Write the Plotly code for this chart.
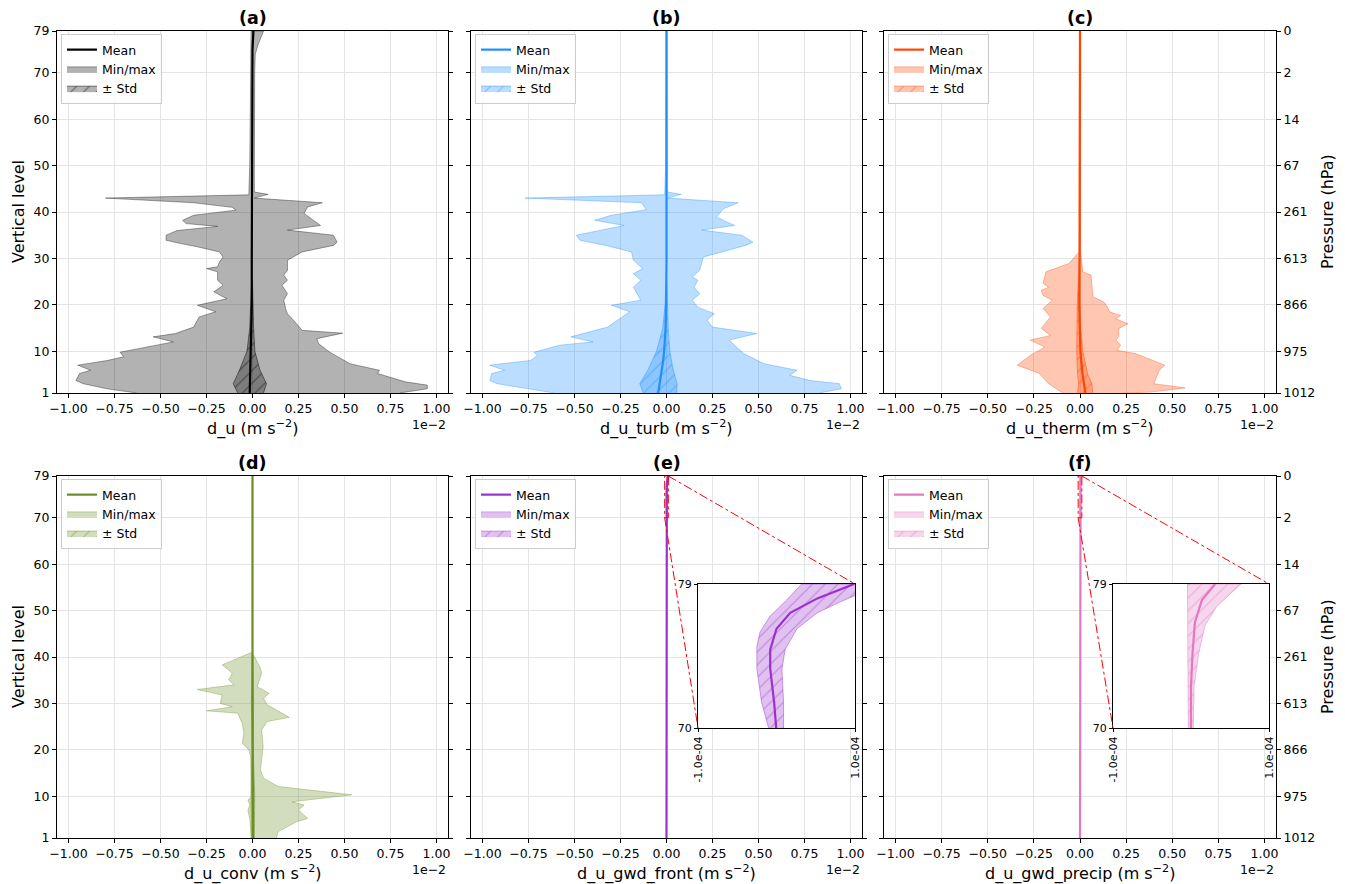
import plotly.graph_objects as go

# ---------------- data (x in units of 1e-2 m s^-2; panels e,f in 1e-4) ----------------
levels_ticks = [1, 10, 20, 30, 40, 50, 60, 70, 79]
pressure_labels = ["1012", "975", "866", "613", "261", "67", "14", "2", "0"]
x_ticks = [-1.0, -0.75, -0.5, -0.25, 0.0, 0.25, 0.5, 0.75, 1.0]
x_ticktext = ["−1.00", "−0.75", "−0.50", "−0.25", "0.00", "0.25", "0.50", "0.75", "1.00"]
panel_titles = ["(a)", "(b)", "(c)", "(d)", "(e)", "(f)"]
x_labels = ["d_u", "d_u_turb", "d_u_therm", "d_u_conv", "d_u_gwd_front", "d_u_gwd_precip"]

# panel (a)
a_min_lev = [1, 1.9, 3.0, 3.7, 5.2, 5.9, 7.0, 8.0, 8.8, 9.8, 10.9, 12.0, 13.1, 13.8, 15.2, 17.4, 18.5,
             19.9, 21.3, 22.8, 24.2, 25.3, 27.1, 27.8, 28.2, 29.2, 30.3, 31.4, 32.5, 33.2, 33.9, 35, 36,
             36.9, 37.5, 38.2, 39.3, 40.4, 41, 42, 43, 43.7, 50, 60, 70, 79]
a_min = [-0.63, -0.79, -0.92, -0.96, -0.94, -0.88, -0.95, -0.79, -0.70, -0.72, -0.57, -0.43, -0.54,
         -0.42, -0.32, -0.29, -0.20, -0.30, -0.14, -0.21, -0.16, -0.19, -0.19, -0.25, -0.19, -0.18,
         -0.16, -0.18, -0.30, -0.39, -0.47, -0.47, -0.41, -0.19, -0.36, -0.38, -0.32, -0.09, -0.11,
         -0.32, -0.80, -0.02, -0.015, -0.012, -0.01, -0.008]
a_max_lev = [1, 1.9, 2.7, 3.4, 5.2, 5.9, 7.3, 9.8, 11.6, 12.7, 13.9, 14.5, 15.9, 18.1, 19.2, 21.0, 22.4,
             24.2, 25.3, 26.4, 27.4, 29.6, 31.4, 32.8, 33.5, 35, 36.1, 37.1, 39.7, 41.1, 42, 43, 43.8,
             44.3, 50, 60, 70, 74, 76, 79]
a_max = [0.80, 0.95, 0.95, 0.83, 0.68, 0.69, 0.53, 0.42, 0.36, 0.35, 0.49, 0.27, 0.24, 0.19, 0.18,
         0.17, 0.19, 0.16, 0.19, 0.17, 0.19, 0.19, 0.27, 0.44, 0.46, 0.44, 0.19, 0.37, 0.28, 0.30,
         0.38, 0.01, 0.085, 0.01, 0.01, 0.01, 0.012, 0.015, 0.03, 0.06]
a_mean_lev = [1, 5, 10, 15, 20, 30, 40, 50, 60, 70, 75, 79]
a_mean = [-0.015, -0.012, -0.008, -0.005, -0.004, -0.004, -0.003, -0.003, -0.003, -0.002, 0.0, 0.005]
a_std_lev = [1, 3, 6, 10, 15, 20, 25]
a_std_lo = [-0.08, -0.105, -0.07, -0.03, -0.015, -0.008, -0.005]
a_std_hi = [0.06, 0.076, 0.04, 0.013, 0.006, 0.003, 0.0]

# panel (b)
b_min_lev = [1, 3.0, 3.7, 5.2, 5.9, 7.0, 8.0, 9.1, 9.8, 11.3, 12.0, 13.1, 15.2, 18.5, 19.9, 21.0,
             23.8, 25.3, 26.7, 27.8, 29.6, 31.4, 32.8, 33.9, 35, 37.1, 38.2, 39.3, 40.5, 42, 43, 43.7,
             50, 60, 70, 79]
b_min = [-0.61, -0.92, -0.96, -0.95, -0.88, -0.96, -0.74, -0.70, -0.72, -0.58, -0.40, -0.52, -0.32,
         -0.20, -0.30, -0.14, -0.18, -0.14, -0.18, -0.13, -0.18, -0.19, -0.33, -0.47, -0.49, -0.23,
         -0.39, -0.30, -0.11, -0.135, -0.77, -0.01, -0.005, -0.004, -0.003, -0.003]
b_max_lev = [1, 1.9, 3.0, 3.7, 4.8, 5.9, 7.3, 9.5, 10.9, 12.4, 13.8, 15.2, 16.7, 18.1, 19.5, 21.0,
             22.4, 23.8, 25.3, 26.0, 27.4, 30.3, 32.8, 33.5, 35, 36.1, 37.1, 38.9, 40.7, 42, 43, 43.8,
             44.3, 50, 60, 70, 79]
b_max = [0.83, 0.95, 0.94, 0.78, 0.67, 0.71, 0.53, 0.42, 0.38, 0.34, 0.49, 0.25, 0.22, 0.26, 0.17,
         0.14, 0.18, 0.15, 0.17, 0.14, 0.18, 0.20, 0.43, 0.47, 0.41, 0.19, 0.37, 0.27, 0.31, 0.39,
         0.005, 0.08, 0.005, 0.005, 0.004, 0.004, 0.004]
b_mean_lev = [1, 3, 5, 8, 10, 15, 20, 30, 79]
b_mean = [-0.045, -0.037, -0.027, -0.018, -0.013, -0.005, -0.002, 0.0, 0.0]
b_std_lev = [1, 3, 6, 10, 15, 20, 25]
b_std_lo = [-0.126, -0.145, -0.10, -0.054, -0.02, -0.008, -0.003]
b_std_hi = [0.054, 0.058, 0.036, 0.018, 0.009, 0.004, 0.002]

# panel (c)
c_min_lev = [1, 3.0, 5.2, 7.0, 9.1, 10.9, 12.4, 13.4, 14.9, 17.4, 19.2, 21.0, 22.0, 23.1, 23.8, 24.6,
             27.1, 28.9, 31.4, 40, 79]
c_min = [-0.094, -0.17, -0.22, -0.34, -0.27, -0.19, -0.27, -0.16, -0.21, -0.16, -0.20, -0.15, -0.20,
         -0.21, -0.17, -0.20, -0.185, -0.06, -0.005, -0.003, -0.003]
c_max_lev = [1, 1.2, 2.1, 3.0, 5.9, 7.0, 9.5, 10.2, 11.3, 12.4, 13.1, 14.9, 15.9, 17.0, 17.7, 18.5,
             19.5, 20.6, 21.7, 26.4, 27.1, 31.4, 40, 79]
c_max = [0.23, 0.385, 0.57, 0.40, 0.43, 0.46, 0.30, 0.20, 0.22, 0.195, 0.21, 0.21, 0.26, 0.195, 0.22,
         0.16, 0.15, 0.13, 0.07, 0.06, 0.015, 0.003, 0.003, 0.003]
c_mean_lev = [1, 5, 10, 15, 20, 30, 79]
c_mean = [0.029, 0.014, 0.002, -0.003, -0.004, -0.002, 0.0]
c_std_lev = [1, 3, 5, 10, 15, 20, 30]
c_std_lo = [-0.013, -0.008, -0.013, -0.018, -0.018, -0.015, -0.004]
c_std_hi = [0.069, 0.065, 0.042, 0.015, 0.004, 0.002, 0.0]

# panel (d)
d_min_lev = [1, 4.9, 7.0, 8.1, 9.2, 9.9, 18.5, 20.0, 21.4, 23.6, 25.7, 27.9, 28.4, 29.3, 30.0, 31.8,
             33.0, 34.0, 35.1, 36.5, 37.2, 38.3, 40.9]
d_min = [-0.007, -0.014, -0.025, -0.014, -0.025, -0.007, -0.01, -0.02, -0.056, -0.047, -0.056, -0.08,
         -0.25, -0.11, -0.175, -0.165, -0.30, -0.10, -0.13, -0.11, -0.13, -0.165, -0.01]
d_max_lev = [1, 2.4, 4.5, 5.2, 7.0, 8.1, 8.8, 10.3, 12.1, 13.9, 15.7, 20.7, 24.3, 26.1, 27.0, 29.7,
             31.1, 32.2, 33.6, 36.5, 37.6, 40.4, 40.9]
d_max = [0.13, 0.14, 0.24, 0.30, 0.25, 0.28, 0.215, 0.54, 0.14, 0.06, 0.043, 0.058, 0.05, 0.08, 0.20,
         0.08, 0.06, 0.09, 0.025, 0.05, 0.043, 0.007, 0.0]
d_mean_lev = [1, 10, 30, 79]
d_mean = [0.003, 0.002, 0.0, 0.0]
d_std_lev = [1, 10, 20, 30, 40]
d_std_lo = [-0.006, -0.008, -0.003, -0.006, -0.002]
d_std_hi = [0.01, 0.012, 0.004, 0.006, 0.002]

# panel (e)  (units of 1e-4)
e_mean_lev = [1, 70, 71.6, 73.7, 74.9, 76.2, 77.2, 78.1, 79]
e_mean = [0.0, -0.004, -0.03, -0.08, -0.08, 0.0, 0.175, 0.52, 0.99]
e_lo_lev = [70, 71.6, 73.7, 75.1, 76.0, 77.0, 78.0, 79]
e_std_lo = [-0.10, -0.19, -0.25, -0.25, -0.21, -0.08, 0.13, 0.32]
e_min = [-0.12, -0.21, -0.27, -0.27, -0.23, -0.10, 0.11, 0.30]
e_hi_lev = [70, 71.6, 73.7, 74.9, 76.2, 77.2, 77.9, 78.5, 79]
e_std_hi = [0.09, 0.09, 0.07, 0.11, 0.26, 0.52, 0.82, 1.1, 1.35]
e_max = [0.11, 0.11, 0.09, 0.13, 0.28, 0.55, 0.86, 1.15, 1.4]

# panel (f)  (units of 1e-4)
f_mean_lev = [1, 70, 72.6, 74.7, 76.6, 78.0, 79]
f_mean = [0.0, -0.002, 0.0, 0.02, 0.05, 0.14, 0.31]
f_lo_lev = [70, 74, 77, 79]
f_std_lo = [-0.035, -0.04, -0.045, -0.045]
f_min = [-0.04, -0.045, -0.05, -0.05]
f_hi_lev = [70, 72.6, 74.7, 76.4, 77.6, 79]
f_std_hi = [0.03, 0.04, 0.10, 0.18, 0.33, 0.64]
f_max = [0.035, 0.045, 0.11, 0.19, 0.35, 0.68]

inset_xrange = [-1, 1]
inset_yrange = [70, 79]

# ---------------- styling / layout ----------------
W, H = 1345, 884
OFF = 8  # the page body adds an 8 px margin; compensate so the picture lines up
FONT = "DejaVu Sans"
XR = [-1.0625, 1.0625]
YR = [1, 79]
col_px = [(57, 448), (471, 862), (884, 1276)]
row_px = [(31, 393), (476, 838)]
inset_px = {5: ((698, 855), (584, 728)), 6: ((1113, 1269), (584, 728))}
colors = [(0, 0, 0), (30, 144, 255), (255, 69, 0), (107, 142, 35), (153, 50, 204), (227, 119, 194)]


def px_x(p):
    return (p - OFF) / W


def px_y(p):
    return 1 - (p - OFF) / H


def rgba(c, a):
    return f"rgba({c[0]},{c[1]},{c[2]},{a})"


def poly(lev_lo, lo, lev_hi, hi, scale=1.0):
    x = [v * scale for v in hi] + [v * scale for v in lo][::-1]
    y = list(lev_hi) + list(lev_lo)[::-1]
    return x, y


panels = [
    dict(mm=(a_min_lev, a_min, a_max_lev, a_max), sd=(a_std_lev, a_std_lo, a_std_lev, a_std_hi), mean=(a_mean_lev, a_mean)),
    dict(mm=(b_min_lev, b_min, b_max_lev, b_max), sd=(b_std_lev, b_std_lo, b_std_lev, b_std_hi), mean=(b_mean_lev, b_mean)),
    dict(mm=(c_min_lev, c_min, c_max_lev, c_max), sd=(c_std_lev, c_std_lo, c_std_lev, c_std_hi), mean=(c_mean_lev, c_mean)),
    dict(mm=(d_min_lev, d_min, d_max_lev, d_max), sd=(d_std_lev, d_std_lo, d_std_lev, d_std_hi), mean=(d_mean_lev, d_mean)),
    dict(mm=(e_lo_lev, e_min, e_hi_lev, e_max), sd=(e_lo_lev, e_std_lo, e_hi_lev, e_std_hi), mean=(e_mean_lev, e_mean), scale=0.01),
    dict(mm=(f_lo_lev, f_min, f_hi_lev, f_max), sd=(f_lo_lev, f_std_lo, f_hi_lev, f_std_hi), mean=(f_mean_lev, f_mean), scale=0.01),
]

fig = go.Figure()
layout = dict(width=W, height=H, autosize=False, margin=dict(l=0, r=0, t=0, b=0),
              paper_bgcolor="white", plot_bgcolor="white",
              font=dict(family=FONT, size=12.5, color="black"), showlegend=True)
annotations = []
shapes = []


def add_band_traces(p, c, xa, ya, scale, legend=None, with_minmax=True):
    show = legend is not None
    if with_minmax:
        x, y = poly(*p["mm"], scale=scale)
        fig.add_trace(go.Scatter(x=x, y=y, xaxis=xa, yaxis=ya, mode="lines", fill="toself",
                                 fillcolor=rgba(c, 0.3), line=dict(color=rgba(c, 0.35), width=1),
                                 name="Min/max", legendrank=2, showlegend=show, legend=legend or "legend",
                                 hoverinfo="skip"))
    x, y = poly(*p["sd"], scale=scale)
    fig.add_trace(go.Scatter(x=x, y=y, xaxis=xa, yaxis=ya, mode="lines", fill="toself",
                             fillcolor=rgba(c, 0.3), line=dict(color=rgba(c, 0.45), width=1),
                             fillpattern=dict(shape="/", fgcolor=rgba(c, 0.45), bgcolor=rgba(c, 0.3),
                                              size=9, solidity=0.12, fillmode="replace"),
                             name="± Std", legendrank=3, showlegend=show, legend=legend or "legend",
                             hoverinfo="skip"))
    ml, mv = p["mean"]
    fig.add_trace(go.Scatter(x=[v * scale for v in mv], y=ml, xaxis=xa, yaxis=ya, mode="lines",
                             line=dict(color=rgba(c, 1), width=2.2), name="Mean", legendrank=1,
                             showlegend=show, legend=legend or "legend", hoverinfo="skip"))


for i, p in enumerate(panels):
    k = i + 1
    r, cidx = divmod(i, 3)
    (x0, x1), (y0, y1) = col_px[cidx], row_px[r]
    c = colors[i]
    xa, ya = ("x" if k == 1 else f"x{k}"), ("y" if k == 1 else f"y{k}")
    leg = "legend" if k == 1 else f"legend{k}"
    add_band_traces(p, c, xa, ya, p.get("scale", 1.0), legend=leg)

    axsuf = "" if k == 1 else str(k)
    layout[f"xaxis{axsuf}"] = dict(domain=[px_x(x0), px_x(x1)], anchor=ya, range=XR, automargin=False,
                                   tickvals=x_ticks, ticktext=x_ticktext, ticks="outside", ticklen=4,
                                   tickcolor="black", showline=True, mirror=True, linecolor="black",
                                   linewidth=1, showgrid=True, gridcolor="#e4e4e4", gridwidth=1,
                                   zeroline=False, tickfont=dict(size=12.5))
    layout[f"yaxis{axsuf}"] = dict(domain=[px_y(y1), px_y(y0)], anchor=xa, range=YR, automargin=False,
                                   tickvals=levels_ticks, ticks="outside", ticklen=4, tickcolor="black",
                                   showline=True, mirror="ticks", linecolor="black", linewidth=1,
                                   showgrid=True, gridcolor="#e4e4e4", gridwidth=1, zeroline=False,
                                   showticklabels=(cidx == 0), tickfont=dict(size=12.5))
    layout[leg] = dict(x=px_x(x0 + 4), y=px_y(y0 + 3), xanchor="left", yanchor="top",
                       bgcolor="rgba(255,255,255,0.85)", bordercolor="#cccccc", borderwidth=1,
                       font=dict(size=12.5, family=FONT), tracegroupgap=0, itemwidth=30)
    xc = (x0 + x1) / 2
    annotations.append(dict(text=f"<b>{panel_titles[i]}</b>", x=px_x(xc), y=px_y(y0 - 13),
                            xref="paper", yref="paper", showarrow=False, font=dict(size=17.5),
                            xanchor="center", yanchor="middle"))
    annotations.append(dict(text=f"{x_labels[i]} (m s<sup>−2</sup>)", x=px_x(xc), y=px_y(y1 + 35),
                            xref="paper", yref="paper", showarrow=False, font=dict(size=16),
                            xanchor="center", yanchor="middle"))
    annotations.append(dict(text="1e−2", x=px_x(x1), y=px_y(y1 + 31), xref="paper", yref="paper",
                            showarrow=False, font=dict(size=12.5), xanchor="right", yanchor="middle"))
    if cidx == 0:
        annotations.append(dict(text="Vertical level", x=px_x(18), y=px_y((y0 + y1) / 2),
                                xref="paper", yref="paper", showarrow=False, textangle=-90,
                                font=dict(size=16), xanchor="center", yanchor="middle"))
    if cidx == 2:
        pid = 9 if r == 0 else 10
        layout[f"yaxis{pid}"] = dict(overlaying=ya, side="right", anchor=xa, range=YR, automargin=False,
                                     tickvals=levels_ticks, ticktext=pressure_labels, ticks="outside",
                                     ticklen=4, tickcolor="black", showgrid=False, zeroline=False,
                                     showline=False, tickfont=dict(size=12.5))
        fig.add_trace(go.Scatter(x=[0], y=[1], xaxis=xa, yaxis=f"y{pid}", mode="markers",
                                 marker=dict(opacity=0), showlegend=False, hoverinfo="skip"))
        annotations.append(dict(text="Pressure (hPa)", x=px_x(1327), y=px_y((y0 + y1) / 2),
                                xref="paper", yref="paper", showarrow=False, textangle=-90,
                                font=dict(size=16), xanchor="center", yanchor="middle"))

# ---------------- insets for (e) and (f) ----------------
for k, iid in ((5, 7), (6, 8)):
    p = panels[k - 1]
    c = colors[k - 1]
    (ix0, ix1), (iy0, iy1) = inset_px[k]
    # white background of the inset (hides the main panel grid underneath)
    fig.add_trace(go.Scatter(x=[inset_xrange[0], inset_xrange[1], inset_xrange[1], inset_xrange[0]],
                             y=[inset_yrange[0], inset_yrange[0], inset_yrange[1], inset_yrange[1]],
                             xaxis=f"x{iid}", yaxis=f"y{iid}", mode="lines", fill="toself",
                             fillcolor="white", line=dict(width=0, color="white"),
                             showlegend=False, hoverinfo="skip"))
    add_band_traces(p, c, f"x{iid}", f"y{iid}", 1.0, legend=None, with_minmax=False)
    layout[f"xaxis{iid}"] = dict(domain=[px_x(ix0), px_x(ix1)], anchor=f"y{iid}", range=inset_xrange,
                                 automargin=False,
                                 tickvals=inset_xrange, ticktext=["-1.0e-04", "1.0e-04"], tickangle=-90,
                                 ticks="outside", ticklen=3, tickcolor="black", showline=True, mirror=True,
                                 linecolor="black", linewidth=1, showgrid=False, zeroline=False,
                                 tickfont=dict(size=11))
    layout[f"yaxis{iid}"] = dict(domain=[px_y(iy1), px_y(iy0)], anchor=f"x{iid}", range=inset_yrange,
                                 automargin=False,
                                 tickvals=inset_yrange, ticks="outside", ticklen=3, tickcolor="black",
                                 showline=True, mirror=True, linecolor="black", linewidth=1,
                                 showgrid=False, zeroline=False, tickfont=dict(size=11))
    mx = "x5" if k == 5 else "x6"
    my = "y5" if k == 5 else "y6"
    shapes.append(dict(type="rect", xref=mx, yref=my, x0=-0.01, x1=0.01, y0=70, y1=79,
                       line=dict(color="red", width=1, dash="dashdot"), layer="above"))
    (mx0, mx1) = col_px[k - 4]
    (my0, my1) = row_px[1]

    def dx(v):
        return px_x(mx0) + (v - XR[0]) / (XR[1] - XR[0]) * (px_x(mx1) - px_x(mx0))

    def dy(v):
        return px_y(my1) + (v - YR[0]) / (YR[1] - YR[0]) * (px_y(my0) - px_y(my1))

    shapes.append(dict(type="line", xref="paper", yref="paper", x0=dx(0.01), y0=dy(79),
                       x1=px_x(ix1), y1=px_y(iy0), line=dict(color="red", width=1, dash="dashdot"),
                       layer="above"))
    shapes.append(dict(type="line", xref="paper", yref="paper", x0=dx(-0.01), y0=dy(70),
                       x1=px_x(ix0), y1=px_y(iy1), line=dict(color="red", width=1, dash="dashdot"),
                       layer="above"))

layout["annotations"] = annotations
layout["shapes"] = shapes
fig.update_layout(**layout)
fig.write_html("out.html")
